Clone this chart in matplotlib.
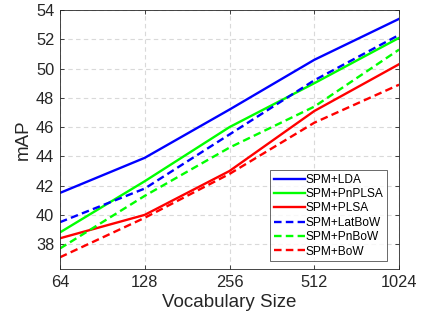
import matplotlib
matplotlib.use("Agg")
import matplotlib.pyplot as plt

plt.rcParams['font.family'] = ['Liberation Sans', 'DejaVu Sans']

vocab = [64, 128, 256, 512, 1024]
xticklabels = ['64', '128', '256', '512', '1024']
lda = [41.5, 43.9, 47.2, 50.6, 53.4]
pnplsa = [38.8, 42.3, 46.0, 49.0, 52.1]
plsa = [38.4, 40.0, 43.0, 47.1, 50.3]
latbow = [39.5, 41.8, 45.5, 49.2, 52.3]
pnbow = [37.7, 41.3, 44.6, 47.4, 51.3]
bow = [37.1, 39.8, 42.8, 46.3, 48.9]

fig = plt.figure(figsize=(4.25, 3.15), dpi=100)
ax = fig.add_axes([0.141, 0.146, 0.798, 0.822])

lw = 1.7
dash = (0, (3.2, 1.8))
ax.plot(vocab, lda, '-', color='#0000ff', lw=lw, label='SPM+LDA')
ax.plot(vocab, pnplsa, '-', color='#00ff00', lw=lw, label='SPM+PnPLSA')
ax.plot(vocab, plsa, '-', color='#ff0000', lw=lw, label='SPM+PLSA')
ax.plot(vocab, latbow, linestyle=dash, color='#0000ff', lw=lw, label='SPM+LatBoW')
ax.plot(vocab, pnbow, linestyle=dash, color='#00ff00', lw=lw, label='SPM+PnBoW')
ax.plot(vocab, bow, linestyle=dash, color='#ff0000', lw=lw, label='SPM+BoW')

ax.set_xscale('log', base=2)
ax.set_xticks(vocab)
ax.set_xticklabels(xticklabels)
ax.minorticks_off()
ax.set_xlim(64, 1024)
ax.set_ylim(36.3, 54)
ax.set_yticks([38, 40, 42, 44, 46, 48, 50, 52, 54])

ax.grid(True, color='#d9d9d9', linestyle=(0, (4, 3)), lw=0.8)
ax.set_axisbelow(True)
ax.tick_params(direction='in', top=True, right=True, labelsize=11.8,
               colors='#262626', length=3, width=0.6, pad=4)
for s in ax.spines.values():
    s.set_color('#262626')
    s.set_linewidth(0.6)

ax.set_xlabel('Vocabulary Size', fontsize=13.5, color='#262626', labelpad=3)
ax.set_ylabel('mAP', fontsize=13.5, color='#262626', labelpad=3)

leg = ax.legend(loc='lower right', bbox_to_anchor=(0.965, 0.03), fontsize=8.6,
                frameon=True, fancybox=False, edgecolor='#262626',
                handlelength=2.6, handletextpad=0.1, labelspacing=0.2,
                borderpad=0.3, borderaxespad=0)
leg.get_frame().set_linewidth(0.6)

fig.savefig('out.png', dpi=100)
